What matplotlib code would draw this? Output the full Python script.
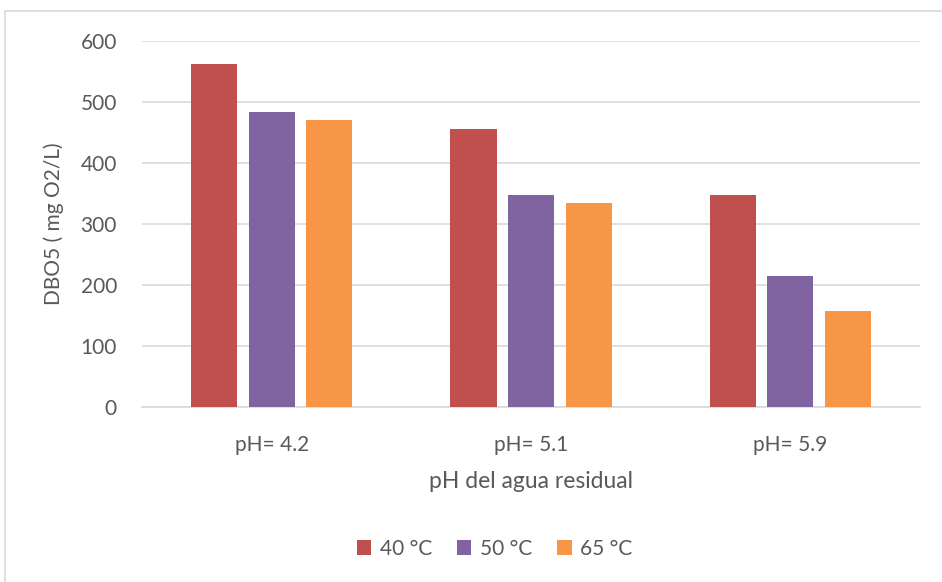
import numpy as np
import matplotlib.pyplot as plt
from matplotlib.patches import Rectangle

plt.rcParams['font.family'] = ['Lato', 'DejaVu Sans']

categorias = ['pH= 4.2', 'pH= 5.1', 'pH= 5.9']
series = ['40 °C', '50 °C', '65 °C']
dbo_40 = [563, 456, 348]
dbo_50 = [483, 348, 214]
dbo_65 = [470, 334, 157]
colores = ['#C0504D', '#8064A2', '#F79646']

texto = '#595959'

fig = plt.figure(figsize=(9.42, 5.82), dpi=100)
ax = fig.add_axes([0.1507, 0.3007, 0.826, 0.6289])

# marco del área del gráfico
fig.patches.append(Rectangle((0.005, -0.01), 1.2, 0.991, transform=fig.transFigure,
                             fill=False, edgecolor='#D9D9D9', linewidth=1.2))

x = np.arange(len(categorias))
ancho = 0.178
paso = 0.222
for i, (vals, nombre, c) in enumerate(zip([dbo_40, dbo_50, dbo_65], series, colores)):
    ax.bar(x + (i - 1) * paso, vals, ancho, color=c, label=nombre, zorder=3)

ax.set_xlim(-0.5, 2.5)
ax.set_ylim(0, 600)
ax.set_yticks(range(0, 601, 100))
ax.set_xticks(x)
ax.set_xticklabels(categorias)
ax.yaxis.grid(True, color='#D9D9D9', linewidth=1.2, zorder=0)
ax.set_axisbelow(True)
for s in ['top', 'right', 'left']:
    ax.spines[s].set_visible(False)
ax.spines['bottom'].set_color('#D9D9D9')
ax.spines['bottom'].set_linewidth(1.2)
ax.tick_params(axis='both', length=0, colors=texto, labelsize=15)
ax.tick_params(axis='x', pad=20)
ax.tick_params(axis='y', pad=18)

ax.set_ylabel('DBO5 ( mg O2/L)', fontsize=15, color=texto, labelpad=12)
ax.set_xlabel('pH del agua residual', fontsize=16.5, color=texto, labelpad=12)

ax.legend(loc='center', bbox_to_anchor=(0.453, -0.388), ncol=3, frameon=False,
          fontsize=15, labelcolor=texto, handlelength=0.7, handleheight=0.7,
          handletextpad=0.4, columnspacing=1.2)

fig.savefig('out.png', dpi=100)
